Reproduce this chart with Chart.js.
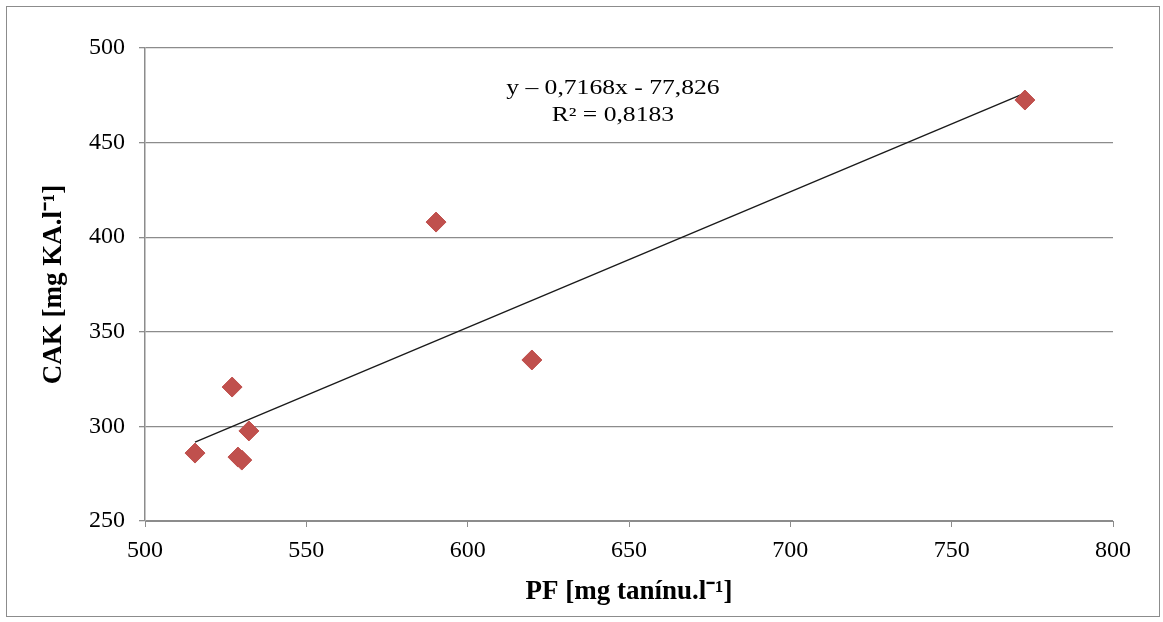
<!DOCTYPE html>
<html>
<head>
<meta charset="utf-8">
<script src="https://cdn.jsdelivr.net/npm/chart.js@4"></script>
<style>
  body { margin: 0; background: #fff; }
  #wrap { width: 1163px; height: 622px; }
</style>
</head>
<body>
<div id="wrap"><canvas id="chart" width="1163" height="622"></canvas></div>
<script>
// measured points: PF [mg taninu/l] vs CAK [mg KA/l]
const pfValues = [515.5, 527.0, 532.2, 528.8, 530.0, 590.2, 619.9, 772.7];
const cakValues = [285.9, 320.8, 297.6, 283.8, 282.2, 408.0, 335.1, 472.5];

// linear trendline endpoints
const trendX = [515.5, 772.7];
const trendY = [291.7, 476.1];

const xTicks = [500, 550, 600, 650, 700, 750, 800];
const yTicks = [250, 300, 350, 400, 450, 500];

const eqLines = ['y – 0,7168x - 77,826', 'R² = 0,8183'];
const eqPos = { x: 645, y: [478.3, 464.0] };

const serif = '"Liberation Serif", "Times New Roman", serif';
const gridColor = '#8c8c8c';

const frame = {
  id: 'frame',
  beforeDraw(chart) {
    const ctx = chart.ctx;
    ctx.save();
    ctx.fillStyle = '#fff';
    ctx.fillRect(0, 0, chart.width, chart.height);
    ctx.strokeStyle = '#8c8c8c';
    ctx.lineWidth = 1;
    ctx.strokeRect(6.5, 6.5, 1153, 610);
    ctx.restore();
  }
};

// equation text, a bit wider than the font, like the source image
const equation = {
  id: 'equation',
  afterDatasetsDraw(chart) {
    const ctx = chart.ctx;
    const xs = chart.scales.x, ys = chart.scales.y;
    ctx.save();
    ctx.font = '20px ' + serif;
    ctx.fillStyle = '#000';
    ctx.textAlign = 'center';
    ctx.textBaseline = 'middle';
    eqLines.forEach((t, i) => {
      const px = xs.getPixelForValue(eqPos.x);
      const py = ys.getPixelForValue(eqPos.y[i]);
      ctx.save();
      ctx.translate(px, py);
      ctx.scale(1.28, 1);
      ctx.fillText(t, 0, 0);
      ctx.restore();
    });
    ctx.restore();
  }
};

const points = pfValues.map((v, i) => ({ x: v, y: cakValues[i] }));
const trend = trendX.map((v, i) => ({ x: v, y: trendY[i] }));

new Chart(document.getElementById('chart'), {
  type: 'scatter',
  data: {
    datasets: [
      {
        label: 'CAK',
        data: points,
        pointStyle: 'rectRot',
        pointRadius: 10,
        pointBackgroundColor: '#c0504d',
        pointBorderColor: '#c0504d',
        pointBorderWidth: 1,
        order: 1
      },
      {
        label: 'trend',
        type: 'line',
        data: trend,
        borderColor: '#1a1a1a',
        borderWidth: 1.4,
        pointRadius: 0,
        fill: false,
        order: 2
      }
    ]
  },
  options: {
    responsive: false,
    animation: false,
    layout: { padding: { top: 48, right: 50, left: 0, bottom: 0 } },
    plugins: {
      legend: { display: false },
      tooltip: { enabled: false }
    },
    scales: {
      x: {
        type: 'linear',
        min: 500,
        max: 800,
        afterBuildTicks(scale) { scale.ticks = xTicks.map(v => ({ value: v })); },
        afterFit(scale) { scale.height = 101; },
        grid: {
          drawOnChartArea: false,
          drawTicks: true,
          tickLength: 6,
          color: gridColor
        },
        border: { color: gridColor, width: 1 },
        ticks: {
          color: '#000',
          padding: 9,
          maxRotation: 0,
          font: { family: serif, size: 24 }
        },
        title: {
          display: true,
          text: 'PF [mg tanínu.l⁻¹]',
          color: '#000',
          padding: { top: 0, bottom: 14 },
          font: { family: serif, size: 27, weight: 'bold' }
        }
      },
      y: {
        type: 'linear',
        min: 250,
        max: 500,
        afterBuildTicks(scale) { scale.ticks = yTicks.map(v => ({ value: v })); },
        afterFit(scale) { scale.width = 145; },
        grid: {
          drawOnChartArea: true,
          drawTicks: true,
          tickLength: 6,
          color: gridColor,
          lineWidth: 1.3
        },
        border: { color: gridColor, width: 1.5 },
        ticks: {
          color: '#000',
          padding: 14,
          font: { family: serif, size: 24 }
        },
        title: {
          display: true,
          text: 'CAK [mg KA.l⁻¹]',
          color: '#000',
          padding: { top: 38, bottom: 0 },
          font: { family: serif, size: 27, weight: 'bold' }
        }
      }
    }
  },
  plugins: [frame, equation]
});
</script>
</body>
</html>
